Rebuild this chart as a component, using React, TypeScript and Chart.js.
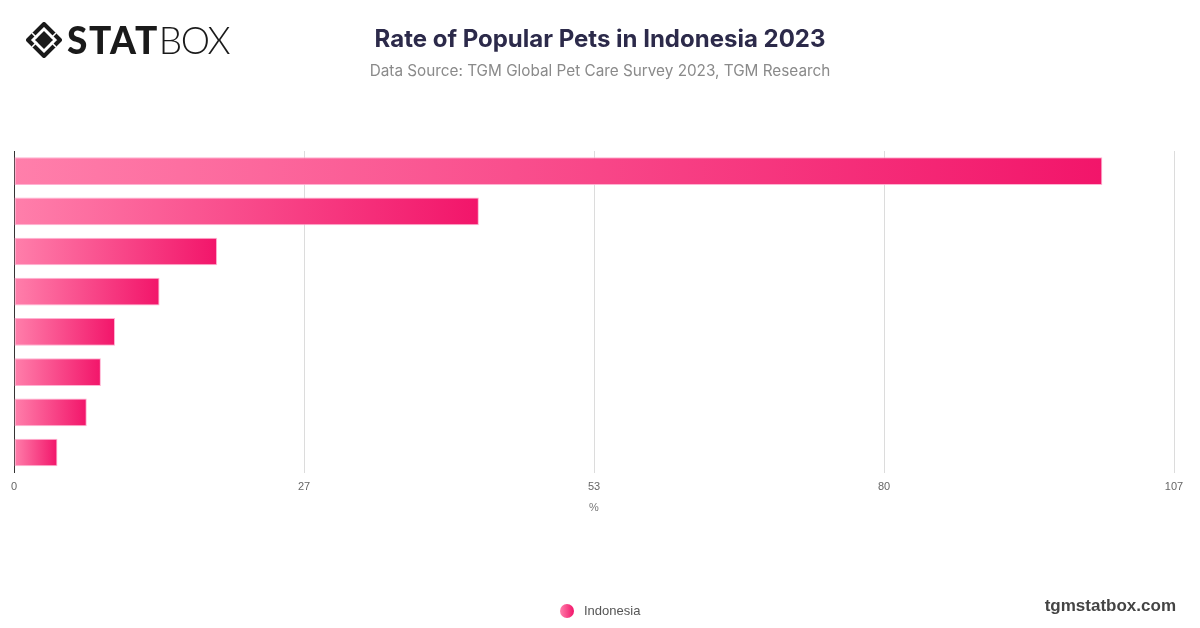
import React, { useEffect, useRef } from "react";
import { Chart, registerables } from "chart.js";

Chart.register(...registerables);

const categories: string[] = ["Cats", "Birds", "Fish", "Dogs", "Rabbits", "Hamsters", "Turtles", "Reptiles"];
const seriesName = "Indonesia";
const values: number[] = [100.2, 42.8, 18.7, 13.4, 9.3, 8.0, 6.7, 4.0];
const tickValues: number[] = [0, 26.7, 53.4, 80.1, 106.8];
const axisMax = 106.8;

const LIGHT = "#ff7fab";
const DARK = "#f2156a";

export default function App() {
  const ref = useRef<HTMLCanvasElement | null>(null);

  useEffect(() => {
    const canvas = ref.current;
    if (!canvas) return;
    const chart = new Chart(canvas, {
      type: "bar",
      data: {
        labels: categories,
        datasets: [
          {
            label: seriesName,
            data: values,
            backgroundColor: (ctx: any) => {
              const c = ctx.chart;
              if (ctx.type !== "data" || !c.chartArea || !c.scales.x) return "#f8437f";
              const xs = c.scales.x;
              const x0 = xs.getPixelForValue(0);
              const x1 = xs.getPixelForValue(ctx.raw as number);
              if (!isFinite(x0) || !isFinite(x1) || x1 - x0 < 1) return LIGHT;
              const g = c.ctx.createLinearGradient(x0, 0, x1, 0);
              g.addColorStop(0, LIGHT);
              g.addColorStop(1, DARK);
              return g;
            },
            borderColor: "rgba(255,170,205,0.9)",
            borderWidth: 1,
            borderSkipped: false,
            categoryPercentage: 0.8,
            barPercentage: 0.86,
          },
        ],
      },
      options: {
        indexAxis: "y",
        responsive: false,
        animation: false,
        devicePixelRatio: 1,
        layout: { padding: { top: 151, left: 6, right: 26, bottom: 109 } },
        scales: {
          x: {
            min: 0,
            max: axisMax,
            afterBuildTicks: (axis: any) => {
              axis.ticks = tickValues.map((v) => ({ value: v }));
            },
            grid: { color: "#dcdcdc", drawTicks: false, lineWidth: 1 },
            border: { display: false },
            ticks: {
              padding: 8,
              color: "#666",
              font: { size: 11, family: "'Liberation Sans', Arial, sans-serif" },
              callback: (v: any) => String(Math.round(Number(v))),
            },
            title: {
              display: true,
              text: "%",
              color: "#777",
              font: { size: 11, family: "'Liberation Sans', Arial, sans-serif" },
              padding: { top: 0, bottom: 4 },
            },
          },
          y: {
            grid: { display: false },
            border: { display: true, color: "#333", width: 1 },
            ticks: { display: false },
          },
        },
        plugins: {
          legend: { display: false },
          tooltip: { enabled: false },
          title: { display: false },
        },
      },
    } as any);
    return () => chart.destroy();
  }, []);

  return (
    <div style={{ position: "absolute", left: 0, top: 0, width: 1200, height: 628, background: "#fff", overflow: "hidden" }}>
      <canvas ref={ref} width={1200} height={628} style={{ position: "absolute", left: 0, top: 0, width: 1200, height: 628 }} />
      <div style={{ position: "absolute", left: 26, top: 20, height: 40, display: "flex", alignItems: "center" }}>
        <svg width="36" height="36" viewBox="0 0 36 36" style={{ marginRight: 5 }}>
          <path d="M18 2 L34 18 L18 34 L2 18 Z" fill="none" stroke="#1a1a1a" strokeWidth="4" strokeLinejoin="round" />
          <path d="M18 9 L27 18 L18 27 L9 18 Z" fill="#1a1a1a" />
          <path d="M6 11 L11 16 M30 11 L25 16 M6 25 L11 20 M30 25 L25 20" stroke="#fff" strokeWidth="1.5" />
        </svg>
        <span style={{ fontFamily: "Lato, sans-serif", fontWeight: 900, fontSize: 37, color: "#1a1a1a", letterSpacing: 1.5, lineHeight: "40px" }}>STAT</span>
        <span style={{ fontFamily: "Lato, sans-serif", fontWeight: 300, fontSize: 37, color: "#1a1a1a", letterSpacing: -1.5, lineHeight: "40px" }}>BOX</span>
      </div>
      <div style={{ position: "absolute", left: 0, top: 23, width: 1200, textAlign: "center", fontFamily: "Inter, sans-serif", fontWeight: 700, fontSize: 24, color: "#2c2a4a", lineHeight: "32px" }}>
        Rate of Popular Pets in Indonesia 2023
      </div>
      <div style={{ position: "absolute", left: 0, top: 60, width: 1200, textAlign: "center", fontFamily: "Inter, sans-serif", fontWeight: 400, fontSize: 15.3, color: "#8a8a8a", lineHeight: "22px" }}>
        Data Source: TGM Global Pet Care Survey 2023, TGM Research
      </div>
      <div style={{ position: "absolute", left: 560, top: 602, height: 18, display: "flex", alignItems: "center" }}>
        <span style={{ display: "inline-block", width: 14, height: 14, borderRadius: 7, background: `linear-gradient(90deg, ${LIGHT}, ${DARK})`, marginRight: 10 }} />
        <span style={{ fontFamily: "'Liberation Sans', Arial, sans-serif", fontSize: 13, color: "#555", lineHeight: "18px" }}>{seriesName}</span>
      </div>
      <div style={{ position: "absolute", right: 24, top: 595, fontFamily: "'Liberation Sans', Arial, sans-serif", fontWeight: 700, fontSize: 17, color: "#444", lineHeight: "22px" }}>
        tgmstatbox.com
      </div>
    </div>
  );
}
